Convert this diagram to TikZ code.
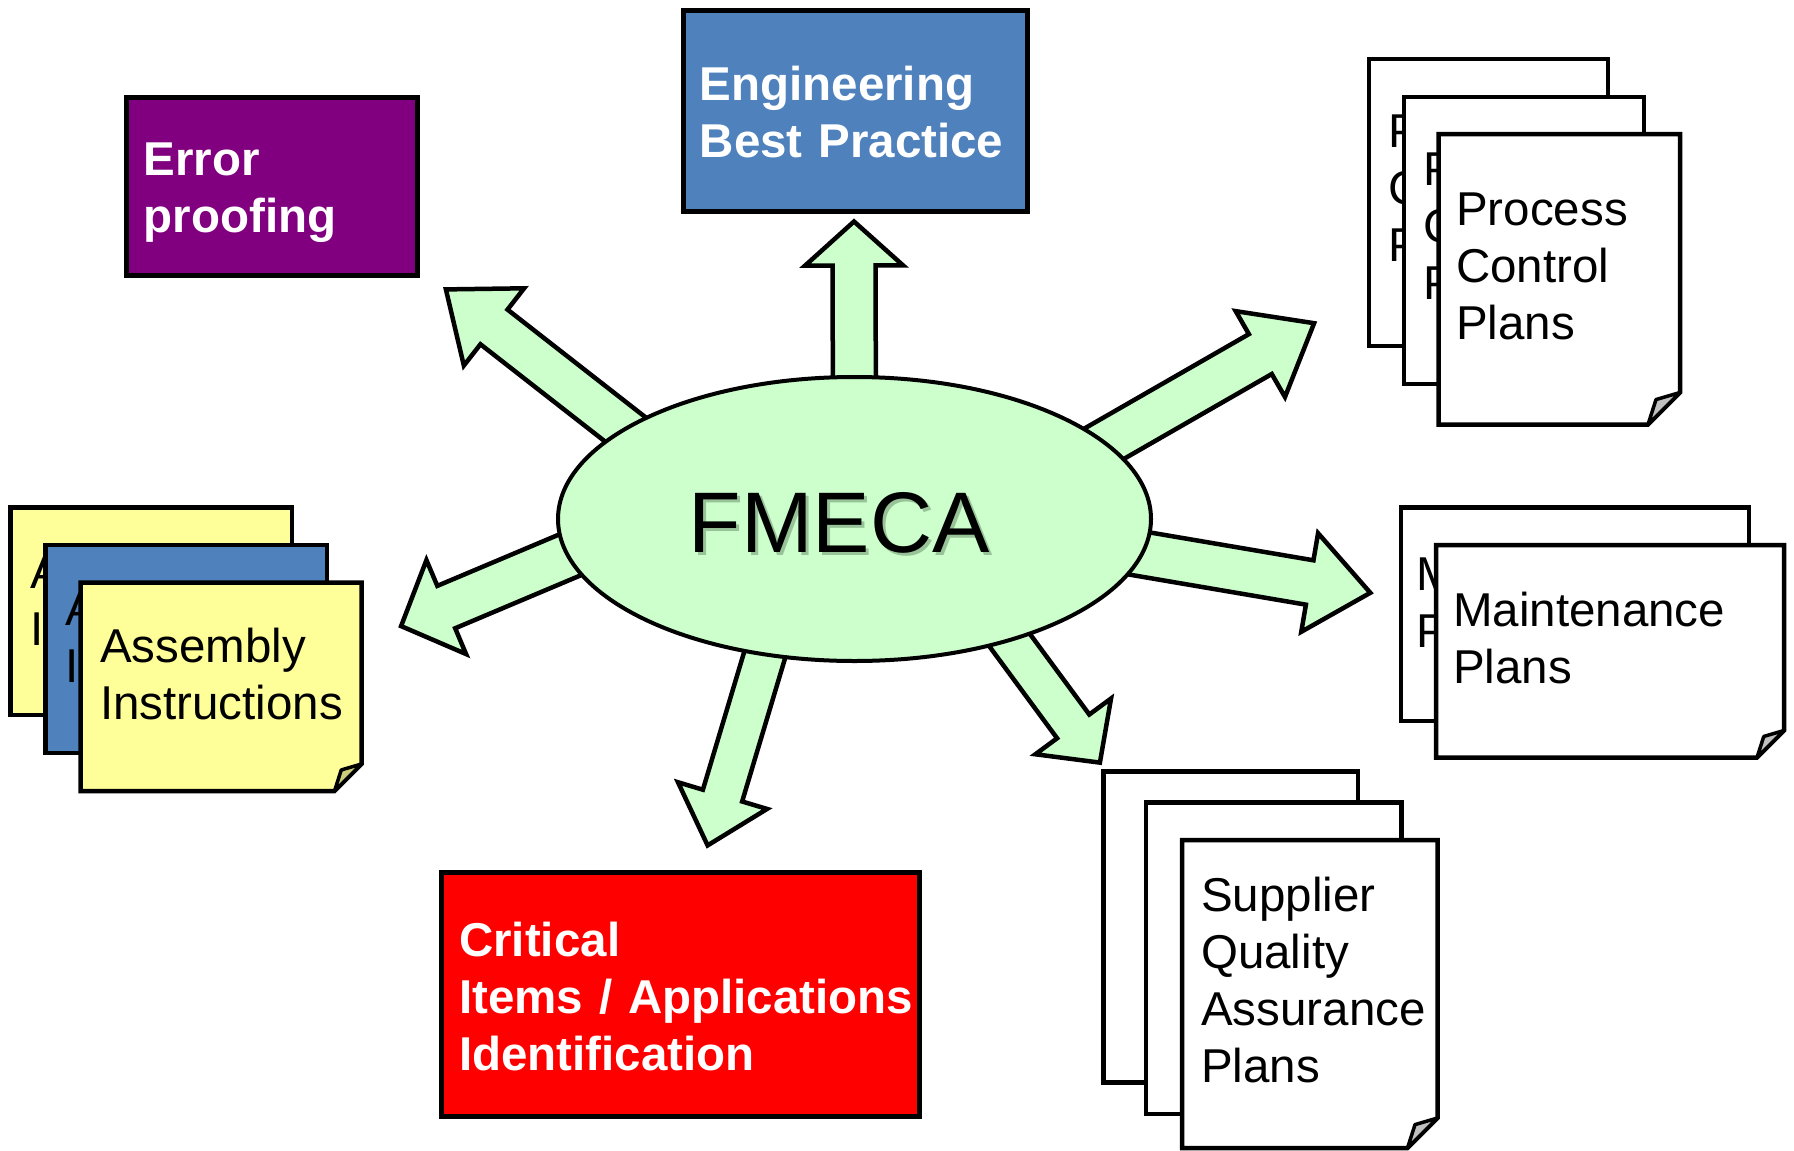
\documentclass[tikz,border=0pt]{standalone}
\usepackage{fontspec}
\setmainfont{Liberation Sans}
\usetikzlibrary{shapes.geometric,calc,backgrounds}
\definecolor{agreen}{HTML}{CCFFCC}
\definecolor{epurple}{HTML}{800080}
\definecolor{eblue}{HTML}{4F81BD}
\definecolor{ered}{HTML}{FF0000}
\definecolor{pyellow}{HTML}{FFFF99}
\definecolor{flapgray}{HTML}{C0C0C0}
\definecolor{flapyellow}{HTML}{CCCC7A}
\definecolor{shadowcol}{HTML}{4A6A4A}
\tikzset{
  barrow/.style={draw=black, line width=4.5pt, fill=agreen, line join=miter, miter limit=10},
  cbox/.style={draw=black, line width=5pt, rectangle, inner sep=0pt},
  page/.style={draw=black, line width=4.5pt, line join=miter},
  flap/.style={draw=black, line width=3.5pt, line join=round},
  btxt/.style={text=white, font=\bfseries\fontsize{47.5}{57}\selectfont, align=left, anchor=base west, inner sep=0pt},
  ptxt/.style={text=black, font=\fontsize{47.5}{57}\selectfont, align=left, anchor=base west, inner sep=0pt},
  bigtxt/.style={font=\fontsize{86}{90}\selectfont, anchor=base, inner sep=0pt}
}
% block arrow: #1 tail, #2 tip, #3 shaft half width, #4 head half width, #5 head length
\newcommand\blockarrow[5]{%
  \path ($(#2)!#5pt!(#1)$) coordinate (hb);
  \draw[barrow] ($(#1)!#3pt!90:(#2)$) -- ($(hb)!#3pt!90:(#2)$) -- ($(hb)!#4pt!90:(#2)$)
    -- (#2) -- ($(hb)!#4pt!-90:(#2)$) -- ($(hb)!#3pt!-90:(#2)$) -- ($(#1)!#3pt!-90:(#2)$) -- cycle;}
\newcommand\backpage[5]{\draw[page, fill=#5] (#1,#2) rectangle (#3,#4);}
\newcommand\frontpage[7]{%
  \draw[page, fill=#6] (#1,#2) -- (#3,#2) -- (#3,#4-#5) -- (#3-#5,#4) -- (#1,#4) -- cycle;
  \draw[flap, fill=#7] (#3,#4-#5) -- (#3-0.75*#5,#4-0.78*#5) -- (#3-#5,#4) -- cycle;}
\begin{document}
\begin{tikzpicture}[x=1pt,y=-1pt]
\useasboundingbox (0,0) rectangle (1794,1151);

% central ellipse
\node[ellipse, draw=black, line width=4pt, fill=agreen, minimum width=593pt, minimum height=284pt, inner sep=0pt] (fmeca) at (854.5,519) {};
\node[bigtxt, text=shadowcol, opacity=0.4] (fmecashadow) at (842,555) {FMECA};
\node[bigtxt, text=black] (fmecatext) at (839,552) {FMECA};

% arrow end points
\coordinate (engT) at ($(fmeca.center)+(0,-50)$);      \coordinate (engH) at (854,221.5);
\coordinate (errT) at ($(fmeca.center)+(-190,-59)$);   \coordinate (errH) at (445.9,289.4);
\coordinate (pcpT) at ($(fmeca.center)+(176,-33)$);    \coordinate (pcpH) at (1314.1,323.2);
\coordinate (mntT) at ($(fmeca.center)+(194,19)$);     \coordinate (mntH) at (1370.3,592.8);
\coordinate (supT) at ($(fmeca.center)+(99,45)$);      \coordinate (supH) at (1099.9,762.6);
\coordinate (criT) at ($(fmeca.center)+(-53,13)$);     \coordinate (criH) at (707.6,845.4);
\coordinate (asmT) at ($(fmeca.center)+(-152,-20)$);   \coordinate (asmH) at (401.1,626.1);

\begin{scope}[on background layer]
  \blockarrow{engT}{engH}{21.5}{49}{44}
  \blockarrow{errT}{errH}{22}{49}{61}
  \blockarrow{pcpT}{pcpH}{23}{49.5}{62}
  \blockarrow{mntT}{mntH}{22.5}{50}{61.5}
  \blockarrow{supT}{supH}{20}{47}{45}
  \blockarrow{criT}{criH}{20.5}{46.5}{52}
  \blockarrow{asmT}{asmH}{23}{51}{49}
\end{scope}

% coloured boxes
\node[cbox, fill=epurple, minimum width=291pt, minimum height=178pt] (err) at (271.5,186) {};
\node[btxt, text width=250pt] (errt) at (143.5,175) {Error\\proofing};

\node[cbox, fill=eblue, minimum width=344pt, minimum height=201pt] (eng) at (855,110.5) {};
\node[btxt, text width=320pt] (engt) at (699.5,100) {Engineering\\Best Practice};

\node[cbox, fill=ered, minimum width=478.5pt, minimum height=243.5pt] (crit) at (680.25,994.25) {};
\node[btxt, text width=500pt] (critt) at (459,956) {Critical\\Items / Applications\\Identification};

% Process Control Plans stack
\backpage{1369}{59}{1608}{346}{white}
\node[ptxt, text width=210pt] (pcp1) at (1388,147.3) {Process\\Control\\Plans};
\backpage{1404}{97}{1644}{384}{white}
\node[ptxt, text width=210pt] (pcp2) at (1423.6,185.7) {Process\\Control\\Plans};
\frontpage{1438.5}{134}{1680}{424.5}{32}{white}{flapgray}
\node[ptxt, text width=210pt] (pcp3) at (1456,225) {Process\\Control\\Plans};

% Maintenance Plans stack
\backpage{1401}{507.5}{1749}{721}{white}
\node[ptxt, text width=300pt] (mnt1) at (1416.5,590) {Maintenance\\Plans};
\frontpage{1436}{545}{1784}{757.5}{27}{white}{flapgray}
\node[ptxt, text width=300pt] (mnt2) at (1453,626.7) {Maintenance\\Plans};

% Supplier Quality Assurance Plans stack
\backpage{1103.5}{771.5}{1358}{1082.5}{white}
\backpage{1146}{802.5}{1401.5}{1114}{white}
\frontpage{1182}{840}{1437.5}{1148}{30}{white}{flapgray}
\node[ptxt, text width=230pt] (sup3) at (1201,911.7) {Supplier\\Quality\\Assurance\\Plans};

% Assembly Instructions stack
\backpage{10.5}{507.5}{292}{715}{pyellow}
\node[ptxt, text width=250pt] (asm1) at (30,588.3) {Assembly\\Instructions};
\backpage{45.5}{545}{327}{753}{eblue}
\node[ptxt, text width=250pt] (asm2) at (65,625) {Assembly\\Instructions};
\frontpage{80.5}{582.5}{361.5}{791}{27}{pyellow}{flapyellow}
\node[ptxt, text width=250pt] (asm3) at (100,662.7) {Assembly\\Instructions};
\end{tikzpicture}
\end{document}
